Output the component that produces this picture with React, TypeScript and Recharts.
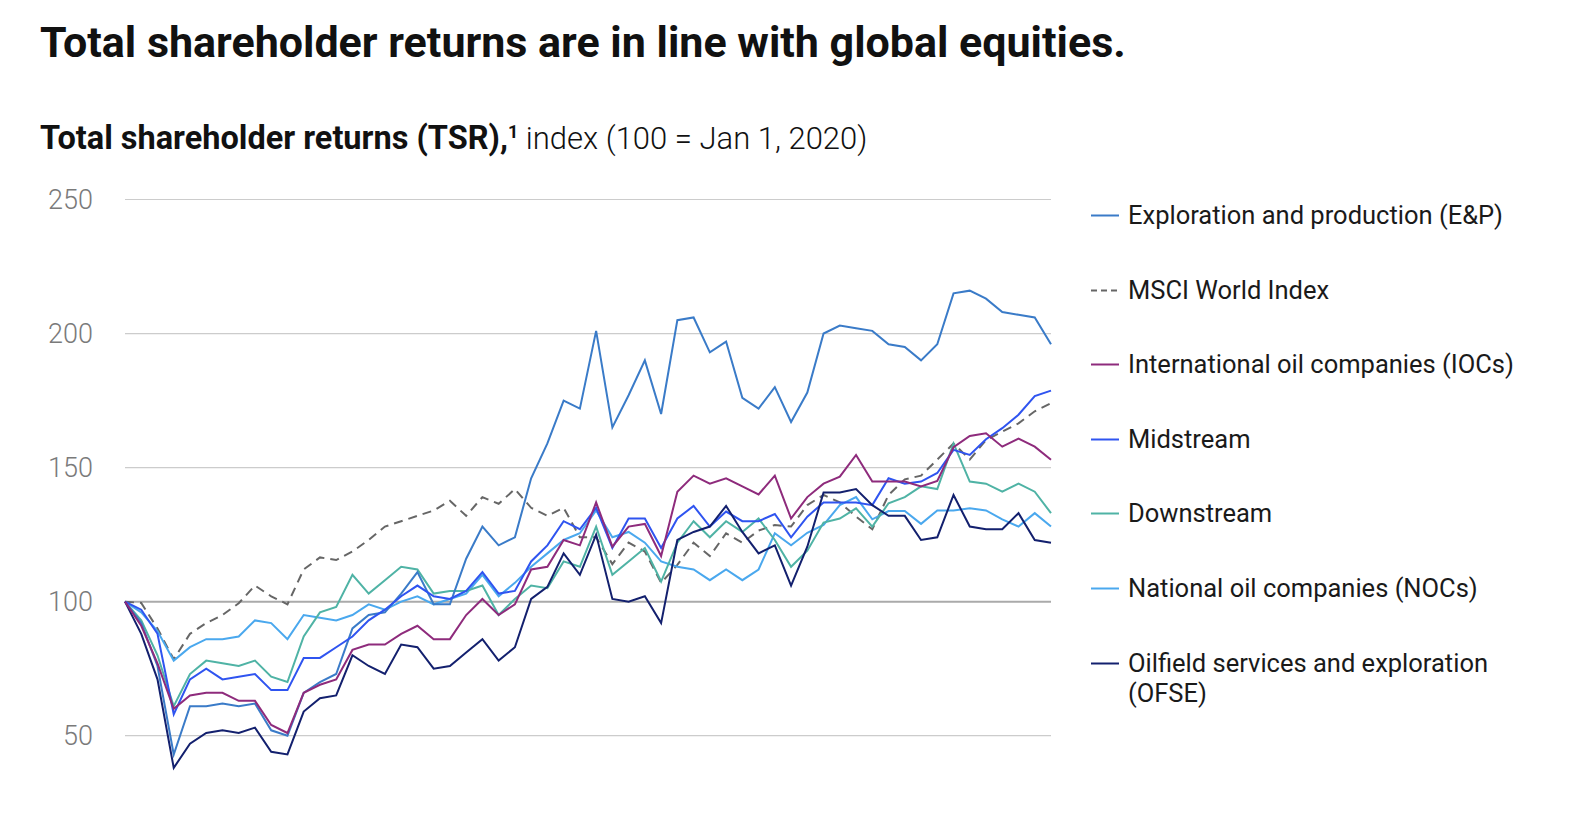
import React from 'react';
import { LineChart, Line, XAxis, YAxis, ReferenceLine } from 'recharts';

const months = [
  'Jan 2020', 'Feb 2020', 'Mar 2020', 'Apr 2020', 'May 2020', 'Jun 2020', 'Jul 2020', 'Aug 2020', 'Sep 2020', 'Oct 2020', 'Nov 2020', 'Dec 2020',
  'Jan 2021', 'Feb 2021', 'Mar 2021', 'Apr 2021', 'May 2021', 'Jun 2021', 'Jul 2021', 'Aug 2021', 'Sep 2021', 'Oct 2021', 'Nov 2021', 'Dec 2021',
  'Jan 2022', 'Feb 2022', 'Mar 2022', 'Apr 2022', 'May 2022', 'Jun 2022', 'Jul 2022', 'Aug 2022', 'Sep 2022', 'Oct 2022', 'Nov 2022', 'Dec 2022',
  'Jan 2023', 'Feb 2023', 'Mar 2023', 'Apr 2023', 'May 2023', 'Jun 2023', 'Jul 2023', 'Aug 2023', 'Sep 2023', 'Oct 2023', 'Nov 2023', 'Dec 2023',
  'Jan 2024', 'Feb 2024', 'Mar 2024', 'Apr 2024', 'May 2024', 'Jun 2024', 'Jul 2024', 'Aug 2024', 'Sep 2024', 'Oct 2024',
];

const explorationProduction = [
  100, 92, 76, 43, 61, 61, 62, 61, 62, 52,
  50, 66, 70, 73, 90, 95, 96, 103, 111, 99,
  99, 116, 128, 121, 124, 146, 159, 175, 172, 201,
  165, 177, 190, 170, 205, 206, 193, 197, 176, 172,
  180, 167, 178, 200, 203, 202, 201, 196, 195, 190,
  196, 215, 216, 213, 208, 207, 206, 196,
];

const msciWorld = [
  100, 99.5, 90, 78.5, 88, 92, 95, 99.4, 106, 102,
  99, 112, 116.5, 115.5, 118.7, 123, 128, 130, 132, 134,
  137.6, 132, 139, 136.5, 142, 135, 132, 135, 124, 124,
  114, 122, 118.7, 107, 113.7, 122, 117, 125.5, 122, 126.5,
  128.6, 128, 136, 139.8, 137, 131.7, 127, 139.8, 145.6, 147,
  153, 159, 153, 160.3, 163.4, 166.5, 171, 174,
];

const iocs = [
  100, 91, 77, 60, 65, 66, 66, 63, 63, 54,
  51, 66, 69, 71, 82, 84, 84, 88, 91, 86,
  86, 95, 101, 95, 99, 112, 113, 123, 121, 137,
  120.5, 128, 129, 117, 141, 147, 144, 146, 143, 140,
  147, 131, 139, 144, 146.6, 154.7, 144.8, 144.8, 144.8, 143,
  145, 157.6, 161.8, 162.8, 157.8, 160.8, 157.8, 152.9,
];

const midstream = [
  100, 97, 88, 58, 71, 75, 71, 72, 73, 67,
  67, 79, 79, 83, 87, 93, 97, 102, 106, 102,
  101, 104, 111, 103, 104, 115, 121, 130, 127, 135,
  120, 131, 131, 120, 131, 135.7, 128, 133.6, 130, 130,
  132.7, 124, 131.7, 137, 137, 137, 136, 146, 144, 144.8,
  148, 156.6, 154.7, 160.6, 164.7, 169.7, 176.7, 178.7,
];

const downstream = [
  100, 93, 80, 61, 73, 78, 77, 76, 78, 72,
  70, 87, 96, 98, 110, 103, 108, 113, 112, 103,
  104, 104, 106, 95, 101, 106, 105, 115, 113, 128,
  110, 115, 120, 107.5, 122, 130, 124, 130, 126, 131,
  123, 113, 119, 129.5, 131, 134.8, 128, 136.7, 139, 143,
  142, 159, 144.8, 144, 141, 144, 141, 133,
];

const nocs = [
  100, 96, 89, 78, 83, 86, 86, 87, 93, 92,
  86, 95, 94, 93, 95, 99, 97, 100, 102, 99,
  101, 103, 110, 102, 107, 113, 118, 123, 125.5, 134,
  124, 126, 122, 115, 113, 112, 108, 112, 108, 112,
  125.5, 121, 125.7, 128.6, 136, 139, 130.7, 133.8, 133.8, 129,
  134, 134, 134.8, 134, 130.7, 128, 133, 128,
];

const ofse = [
  100, 88, 71, 38, 47, 51, 52, 51, 53, 44,
  43, 59, 64, 65, 80, 76, 73, 84, 83, 75,
  76, 81, 86, 78, 83, 101, 105.5, 118, 110, 125,
  101, 100, 102, 92, 123, 126, 128, 135.7, 126, 118,
  121, 106, 120.5, 140.7, 140.7, 142, 136, 132, 132, 123,
  124, 139.8, 128, 127, 127, 133, 123, 122,
];

const yTicks = [50, 100, 150, 200, 250];
const baselineValue = 100;

const FONT = 'Roboto, "Liberation Sans", Arial, sans-serif';

type SeriesDef = { key: string; name: string; color: string; dash?: string; values: number[] };

const seriesDefs: SeriesDef[] = [
  { key: 'ep', name: 'Exploration and production (E&P)', color: '#3a7bc8', values: explorationProduction },
  { key: 'msci', name: 'MSCI World Index', color: '#666666', dash: '9 6', values: msciWorld },
  { key: 'ioc', name: 'International oil companies (IOCs)', color: '#8e2b7c', values: iocs },
  { key: 'mid', name: 'Midstream', color: '#2f54f0', values: midstream },
  { key: 'down', name: 'Downstream', color: '#4fb3a5', values: downstream },
  { key: 'noc', name: 'National oil companies (NOCs)', color: '#4aa8ee', values: nocs },
  { key: 'ofse', name: 'Oilfield services and exploration (OFSE)', color: '#13206e', values: ofse },
];

const drawOrder = ['msci', 'noc', 'down', 'ep', 'mid', 'ofse', 'ioc'];

export default function App() {
  const data = months.map((m, i) => {
    const row: Record<string, string | number> = { month: m };
    seriesDefs.forEach((s) => {
      row[s.key] = s.values[i];
    });
    return row;
  });

  return (
    <div
      style={{
        position: 'absolute',
        left: 0,
        top: 0,
        width: 1580,
        height: 831,
        background: '#ffffff',
        fontFamily: FONT,
        overflow: 'hidden',
      }}
    >
      <div
        style={{
          position: 'absolute',
          left: 40,
          top: 16,
          fontSize: 43,
          fontWeight: 700,
          lineHeight: '52px',
          color: '#111',
          whiteSpace: 'nowrap',
          letterSpacing: 0,
        }}
      >
        Total shareholder returns are in line with global equities.
      </div>
      <div
        style={{
          position: 'absolute',
          left: 40,
          top: 119,
          fontSize: 31,
          lineHeight: '38px',
          color: '#111',
          whiteSpace: 'nowrap',
        }}
      >
        <span style={{ fontWeight: 700, fontSize: 32.5 }}>Total shareholder returns (TSR),</span>
        <sup style={{ fontSize: 18, fontWeight: 700, lineHeight: 0 }}>1</sup>
        <span style={{ fontWeight: 300 }}> index (100 = Jan 1, 2020)</span>
      </div>

      <div style={{ position: 'absolute', left: 0, top: 0 }}>
        <LineChart
          width={1580}
          height={831}
          data={data}
          margin={{ top: 199.5, right: 529, bottom: 41.7, left: 65 }}
        >
          <XAxis dataKey="month" hide />
          <YAxis
            domain={[30, 250]}
            ticks={yTicks}
            width={60}
            axisLine={false}
            tickLine={false}
            tickSize={0}
            tickMargin={32}
            tick={{ fill: '#7a7a7a', fontSize: 27, fontWeight: 300, fontFamily: FONT }}
          />
          {yTicks.map((t) => (
            <ReferenceLine
              key={t}
              y={t}
              stroke={t === baselineValue ? '#aaaaaa' : '#cccccc'}
              strokeWidth={t === baselineValue ? 2 : 1.2}
            />
          ))}
          {drawOrder.map((k) => {
            const s = seriesDefs.find((d) => d.key === k)!;
            return (
              <Line
                key={s.key}
                type="linear"
                dataKey={s.key}
                name={s.name}
                stroke={s.color}
                strokeWidth={2}
                strokeDasharray={s.dash}
                dot={false}
                activeDot={false}
                isAnimationActive={false}
              />
            );
          })}
        </LineChart>
      </div>

      {seriesDefs.map((s, i) => (
        <div
          key={s.key}
          style={{
            position: 'absolute',
            left: 1091,
            top: 200 + i * 74.6,
            display: 'flex',
            alignItems: 'flex-start',
            width: 485,
          }}
        >
          <svg width={28} height={31} style={{ flex: '0 0 auto' }}>
            <line
              x1={0}
              x2={28}
              y1={15.5}
              y2={15.5}
              stroke={s.color}
              strokeWidth={2}
              strokeDasharray={s.dash ? '6 4' : undefined}
            />
          </svg>
          <div
            style={{
              marginLeft: 9,
              fontSize: 25.5,
              lineHeight: '30.5px',
              color: '#1a1a1a',
              width: 420,
            }}
          >
            {s.name}
          </div>
        </div>
      ))}
    </div>
  );
}
